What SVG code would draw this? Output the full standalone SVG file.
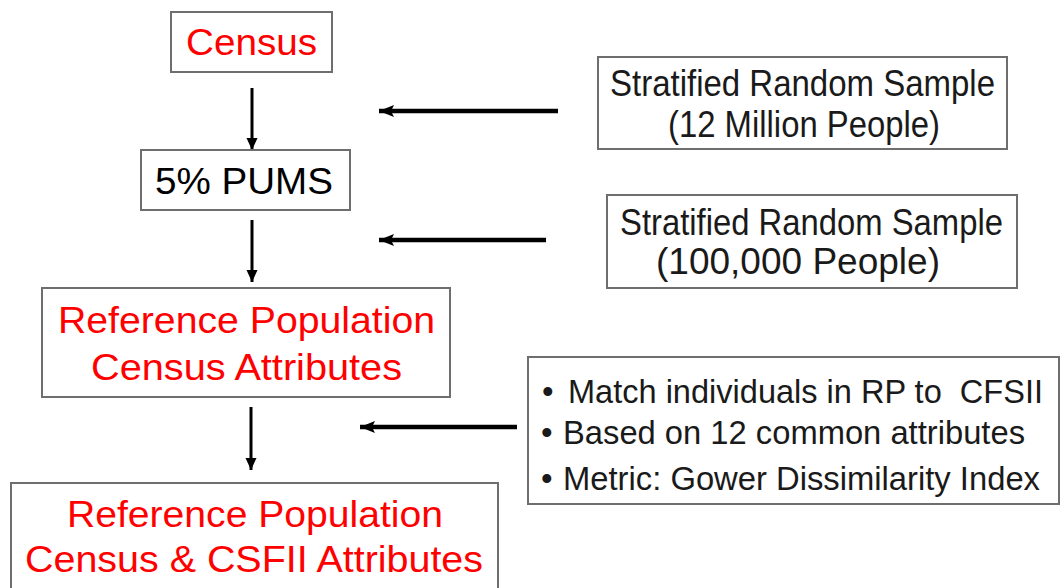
<svg xmlns="http://www.w3.org/2000/svg" width="1062" height="588" viewBox="0 0 1062 588">
<style>
.box{fill:#fff;stroke:#6e6e6e;stroke-width:2}
.red{fill:#ff0000;font-family:"Liberation Sans",Arial,sans-serif;font-size:36px}
.blk{fill:#000;font-family:"Liberation Sans",Arial,sans-serif;font-size:36px}
.side{fill:#1a1a1a;font-family:"Liberation Sans",Arial,sans-serif;font-size:36px}
.bul{fill:#1a1a1a;font-family:"Liberation Sans",Arial,sans-serif;font-size:33px}
.conn{stroke:#000;fill:none}
</style>
<defs>
<marker id="hh" markerUnits="userSpaceOnUse" markerWidth="16" markerHeight="14" refX="15" refY="7" orient="auto">
<path d="M0,1 L15,7 L0,13 L3,7 Z" fill="#000"/>
</marker>
<marker id="hv" markerUnits="userSpaceOnUse" markerWidth="13" markerHeight="12" refX="12" refY="6" orient="auto">
<path d="M0,0.5 L12,6 L0,11.5 Z" fill="#000"/>
</marker>
</defs>
<rect width="1062" height="588" fill="#fff"/>
<g id="connectors">
<line class="conn" x1="252" y1="88" x2="252" y2="150" stroke-width="3" marker-end="url(#hv)"/>
<line class="conn" x1="252" y1="220" x2="252" y2="282" stroke-width="3" marker-end="url(#hv)"/>
<line class="conn" x1="251" y1="407" x2="251" y2="470" stroke-width="3" marker-end="url(#hv)"/>
<line class="conn" x1="558" y1="111" x2="379" y2="111" stroke-width="4.5" marker-end="url(#hh)"/>
<line class="conn" x1="546" y1="240" x2="379" y2="240" stroke-width="4.5" marker-end="url(#hh)"/>
<line class="conn" x1="517" y1="427" x2="360" y2="427" stroke-width="4.5" marker-end="url(#hh)"/>
</g>
<g id="census">
<rect class="box" x="171" y="12" width="161" height="60"/>
<text class="red" x="186" y="55" textLength="131" lengthAdjust="spacingAndGlyphs">Census</text>
</g>
<g id="pums">
<rect class="box" x="141" y="150" width="209" height="60"/>
<text class="blk" x="155" y="194" textLength="178" lengthAdjust="spacingAndGlyphs">5% PUMS</text>
</g>
<g id="refpop">
<rect class="box" x="42" y="288" width="408" height="109"/>
<text class="red" x="58" y="333" textLength="377" lengthAdjust="spacingAndGlyphs">Reference Population</text>
<text class="red" x="91" y="380" textLength="311" lengthAdjust="spacingAndGlyphs">Census Attributes</text>
</g>
<g id="refpop-csfii">
<rect class="box" x="11" y="483" width="487" height="120"/>
<text class="red" x="67" y="527" textLength="376" lengthAdjust="spacingAndGlyphs">Reference Population</text>
<text class="red" x="25" y="572" textLength="458" lengthAdjust="spacingAndGlyphs">Census &amp; CSFII Attributes</text>
</g>
<g id="sample12m">
<rect class="box" x="598" y="57" width="409" height="92"/>
<text class="side" x="610" y="96" textLength="385" lengthAdjust="spacingAndGlyphs">Stratified Random Sample</text>
<text class="side" x="668" y="137" textLength="272" lengthAdjust="spacingAndGlyphs">(12 Million People)</text>
</g>
<g id="sample100k">
<rect class="box" x="607" y="195" width="410" height="93"/>
<text class="side" x="620" y="235" textLength="383" lengthAdjust="spacingAndGlyphs">Stratified Random Sample</text>
<text class="side" x="656" y="274" textLength="284" lengthAdjust="spacingAndGlyphs">(100,000 People)</text>
</g>
<g id="matching">
<rect class="box" x="528" y="357" width="531" height="147"/>
<text class="bul" x="542" y="403" font-size="30">•</text>
<text class="bul" x="568" y="403" textLength="475" lengthAdjust="spacingAndGlyphs" xml:space="preserve">Match individuals in RP to  CFSII</text>
<text class="bul" x="541" y="444" font-size="26">•</text>
<text class="bul" x="563" y="444" textLength="462" lengthAdjust="spacingAndGlyphs">Based on 12 common attributes</text>
<text class="bul" x="541" y="490" font-size="26">•</text>
<text class="bul" x="563" y="490" textLength="477" lengthAdjust="spacingAndGlyphs">Metric: Gower Dissimilarity Index</text>
</g>
</svg>
